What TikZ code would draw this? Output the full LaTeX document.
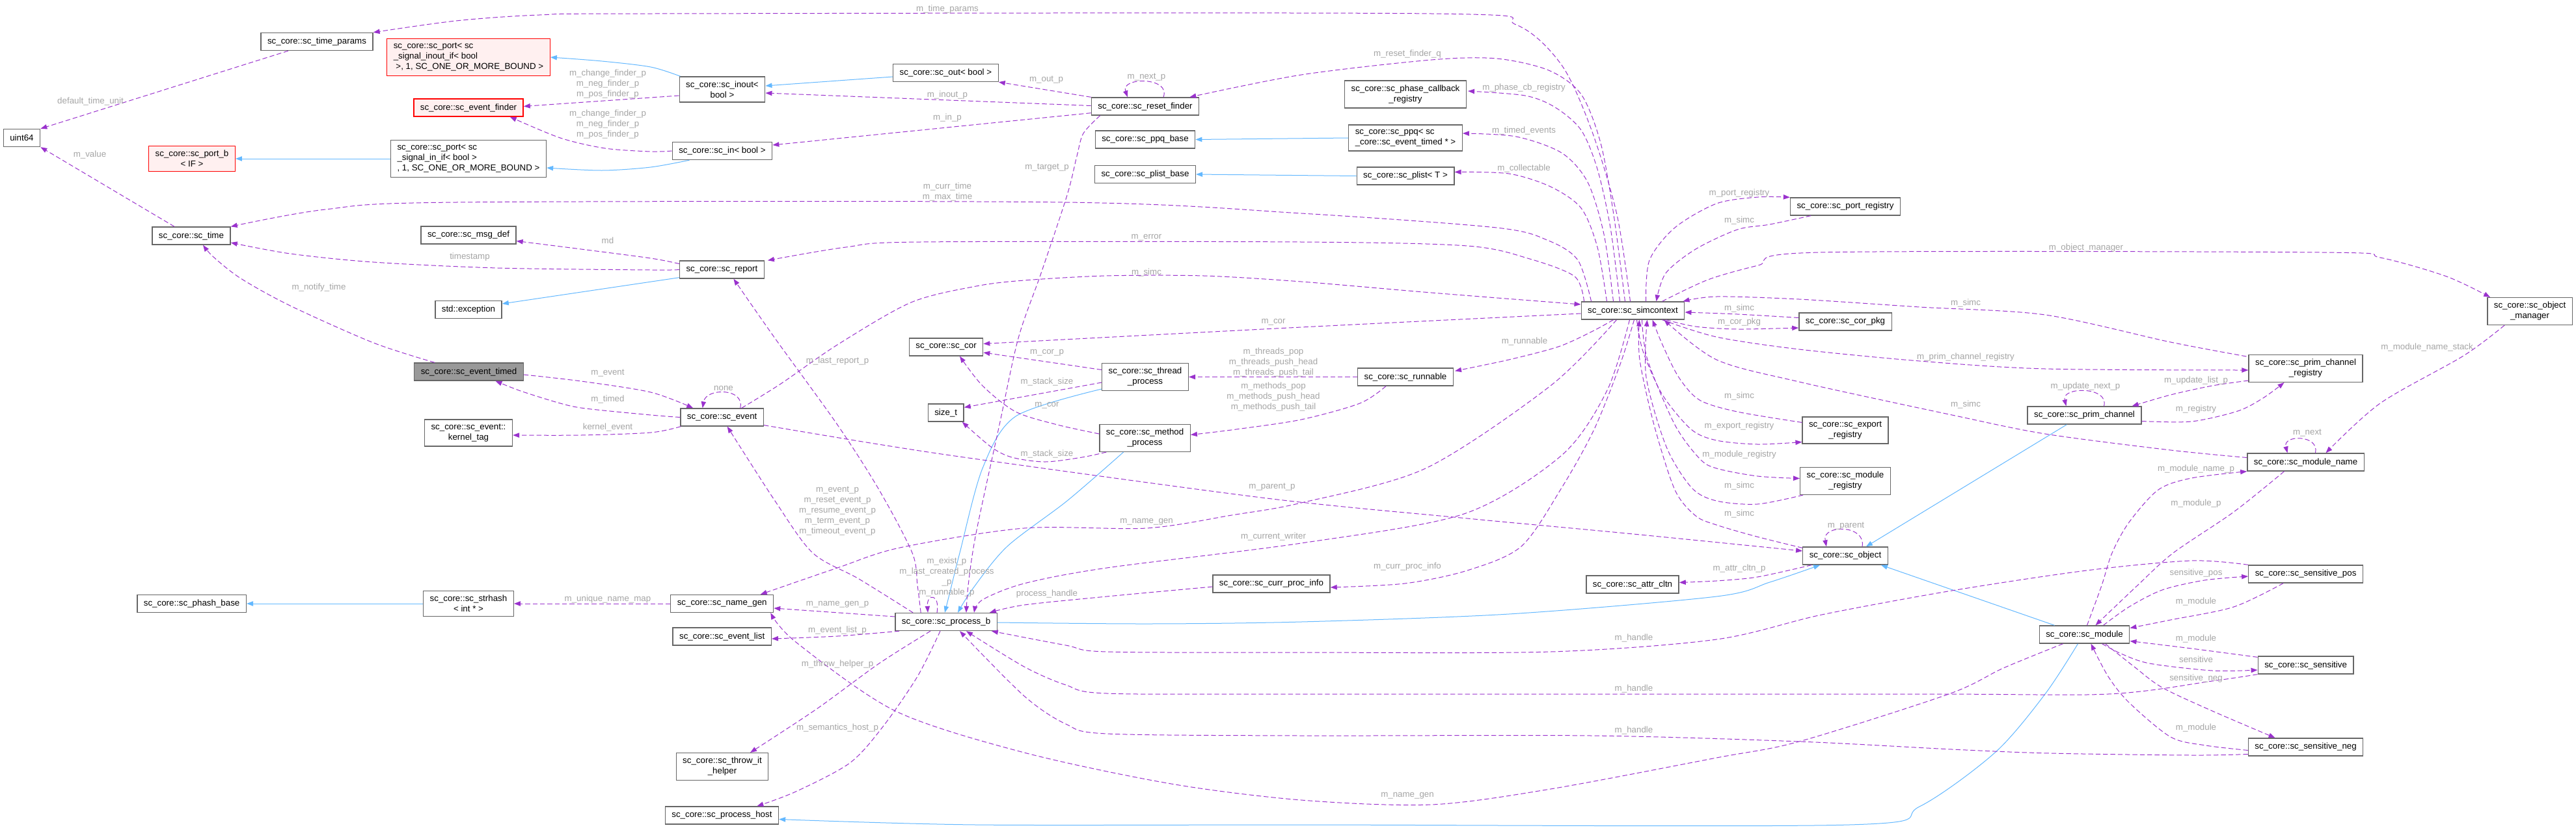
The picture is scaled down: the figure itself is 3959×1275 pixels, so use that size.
\documentclass[tikz,border=0pt]{standalone}
\usepackage{fontspec}
\setmainfont{Liberation Sans}
\usepackage{tikz}
\usetikzlibrary{arrows.meta}
\definecolor{memc}{RGB}{154,50,205}
\definecolor{inhc}{RGB}{99,184,255}
\definecolor{boxc}{RGB}{102,102,102}
\definecolor{redfill}{RGB}{255,240,240}
\definecolor{curfill}{RGB}{153,153,153}
\definecolor{lblc}{RGB}{165,165,165}

\begin{document}
\begin{tikzpicture}[x=0.75pt,y=-0.75pt,
  cls/.style={draw=boxc,fill=white,line width=1pt,font=\fontsize{10}{12}\selectfont,inner xsep=7.5pt,inner ysep=5pt,minimum height=20.25pt,align=center},
  tcls/.style={cls,align=left},
  redcls/.style={cls,draw=red,fill=redfill},
  cur/.style={cls,fill=curfill},
  lbl/.style={font=\fontsize{10}{12}\selectfont,text=lblc,align=center,inner sep=0pt},
  mem/.style={draw=memc,line width=0.75pt,dash pattern=on 5.5pt off 3pt,-{Triangle[length=7.5pt,width=5.5pt]}},
  inh/.style={draw=inhc,line width=0.75pt,-{Triangle[length=7.5pt,width=5.5pt]}}
]
\useasboundingbox (0,0) rectangle (3959,1275);
\fill[white] (0,0) rectangle (3959,1275);

% classes
\node[cls] (uint64) at (33.5,212) {uint64};
\node[cls] (timeparams) at (487,64) {sc\_core::sc\_time\_params};
\node[redcls,align=left] (portinout) at (720,88) {sc\_core::sc\_port< sc\\\_signal\_inout\_if< bool\\~>, 1, SC\_ONE\_OR\_MORE\_BOUND >};
\node[redcls] (evfinder) at (720,165.5) {sc\_core::sc\_event\_finder};
\node[redcls] (portb) at (295,244) {sc\_core::sc\_port\_b\\< IF >};
\node[tcls] (portin) at (720,244) {sc\_core::sc\_port< sc\\\_signal\_in\_if< bool >\\, 1, SC\_ONE\_OR\_MORE\_BOUND >};
\node[cls] (sctime) at (294,362.5) {sc\_core::sc\_time};
\node[cls] (msgdef) at (720,361.5) {sc\_core::sc\_msg\_def};
\node[cls] (exception) at (720,476) {std::exception};
\node[cur] (evtimed) at (720.5,571.5) {sc\_core::sc\_event\_timed};
\node[cls] (kerneltag) at (720,665.5) {sc\_core::sc\_event::\\kernel\_tag};
\node[cls] (phashbase) at (294.6,928) {sc\_core::sc\_phash\_base};
\node[cls] (strhash) at (720,928) {sc\_core::sc\_strhash\\< int * >};
\node[cls] (inout) at (1110,137.5) {sc\_core::sc\_inout<\\bool >};
\node[cls] (scin) at (1110,232) {sc\_core::sc\_in< bool >};
\node[cls] (report) at (1109.4,414.5) {sc\_core::sc\_report};
\node[cls] (event) at (1109.7,641.5) {sc\_core::sc\_event};
\node[cls] (namegen) at (1109.7,928) {sc\_core::sc\_name\_gen};
\node[cls] (eventlist) at (1109.7,978.5) {sc\_core::sc\_event\_list};
\node[cls] (throwhelper) at (1110,1178.5) {sc\_core::sc\_throw\_it\\\_helper};
\node[cls] (processhost) at (1109.4,1253.5) {sc\_core::sc\_process\_host};
\node[cls] (scout) at (1453.4,112) {sc\_core::sc\_out< bool >};
\node[cls] (cor) at (1454,533.5) {sc\_core::sc\_cor};
\node[cls] (sizet) at (1453.7,634.5) {size\_t};
\node[cls] (processb) at (1454,956) {sc\_core::sc\_process\_b};
\node[cls] (resetfinder) at (1760,163.5) {sc\_core::sc\_reset\_finder};
\node[cls] (ppqbase) at (1760,214.5) {sc\_core::sc\_ppq\_base};
\node[cls] (plistbase) at (1760,268) {sc\_core::sc\_plist\_base};
\node[cls] (thread) at (1760,579.5) {sc\_core::sc\_thread\\\_process};
\node[cls] (method) at (1759.6,673.5) {sc\_core::sc\_method\\\_process};
\node[cls] (currproc) at (1954,897.5) {sc\_core::sc\_curr\_proc\_info};
\node[cls] (phasecb) at (2160,145) {sc\_core::sc\_phase\_callback\\\_registry};
\node[tcls] (ppq) at (2160,212) {sc\_core::sc\_ppq< sc\\\_core::sc\_event\_timed * >};
\node[cls] (plist) at (2160,270.5) {sc\_core::sc\_plist< T >};
\node[cls] (runnable) at (2160,579.5) {sc\_core::sc\_runnable};
\node[cls] (simc) at (2509.5,477.5) {sc\_core::sc\_simcontext};
\node[cls] (attrcltn) at (2509,898.5) {sc\_core::sc\_attr\_cltn};
\node[cls] (portreg) at (2836,317.5) {sc\_core::sc\_port\_registry};
\node[cls] (corpkg) at (2836,494.5) {sc\_core::sc\_cor\_pkg};
\node[cls] (exportreg) at (2836,661.5) {sc\_core::sc\_export\\\_registry};
\node[cls] (modulereg) at (2836,739.5) {sc\_core::sc\_module\\\_registry};
\node[cls] (object) at (2836,854.5) {sc\_core::sc\_object};
\node[cls] (primchan) at (3203.5,638.5) {sc\_core::sc\_prim\_channel};
\node[cls] (module) at (3203.5,975.5) {sc\_core::sc\_module};
\node[cls] (primchanreg) at (3543.5,566.5) {sc\_core::sc\_prim\_channel\\\_registry};
\node[cls] (modulename) at (3543.5,710.5) {sc\_core::sc\_module\_name};
\node[cls] (senspos) at (3543.6,882.5) {sc\_core::sc\_sensitive\_pos};
\node[cls] (sensitive) at (3543.6,1022.5) {sc\_core::sc\_sensitive};
\node[cls] (sensneg) at (3543.6,1148.5) {sc\_core::sc\_sensitive\_neg};
\node[cls] (objmgr) at (3888,478.5) {sc\_core::sc\_object\\\_manager};

% inheritance
\draw[inh] plot[smooth,tension=.5] coordinates {([shift={(2,0)}]inout.north west) (1000,103) (925,94) (portinout.east)};
\draw[inh] (portin.west) -- (portb.east);
\draw[inh] plot[smooth,tension=.5] coordinates {([shift={(27,0)}]scin.south west) (1000,257) (925,262) ([shift={(0,14)}]portin.east)};
\draw[inh] ([shift={(0,6)}]scout.west) -- ([shift={(0,-5.5)}]inout.east);
\draw[inh] ([shift={(0,-2)}]report.south west) -- ([shift={(0,-9)}]exception.east);
\draw[inh] (ppq.west) -- (ppqbase.east);
\draw[inh] (plist.west) -- (plistbase.east);
\draw[inh] (strhash.west) -- (phashbase.east);
\draw[inh] plot[smooth,tension=.5] coordinates {([shift={(0,-3)}]thread.south west) (1561,640) (1510,720) (1475,850) (1460,910) ([shift={(-2,0)}]processb.north)};
\draw[inh] plot[smooth,tension=.5] coordinates {([shift={(-33,0)}]method.south) (1640,770) (1548,840) (1495,905) ([shift={(18,0)}]processb.north)};
\draw[inh] plot[smooth,tension=.5] coordinates {([shift={(0,1)}]processb.east) (1765,959) (2000,956) (2319,944) (2638,917) (2720,895) ([shift={(27,0)}]object.south west)};
\draw[inh] ([shift={(61,0)}]primchan.south west) -- ([shift={(-34,0)}]object.north east);
\draw[inh] ([shift={(24,0)}]module.north west) -- ([shift={(-11,0)}]object.south east);
\draw[inh] plot[smooth,tension=.5] coordinates {([shift={(-10,0)}]module.south) (3143,1067) (3066,1157) (2950,1240) (2842,1268) (2000,1268) (1500,1268) ([shift={(0,6)}]processhost.east)};

% members
\draw[mem] ([shift={(-44,0)}]timeparams.south) -- (uint64.north east);
\draw[mem] ([shift={(-26,0)}]sctime.north) -- (uint64.south east);
\draw[mem] plot[smooth,tension=.5] coordinates {([shift={(-4,0)}]simc.north) (2485,330) (2446,200) (2400,100) (2330,38) (2200,21) (1000,21) (829,23) (701,32) (timeparams.north east)};
\draw[mem] ([shift={(0,9.5)}]inout.west) -- ([shift={(0,-2)}]evfinder.east);
\draw[mem] plot[smooth,tension=.5] coordinates {(scin.west) (1000,233) (930,228) (861,212) ([shift={(-21,0)}]evfinder.south east)};
\draw[mem] plot[smooth,tension=.5] coordinates {([shift={(16,0)}]simc.north west) (2425,400) (2380,370) (2300,350) (2000,328) (1638,311) (701,311) (500,322) (sctime.north east)};
\draw[mem] plot[smooth,tension=.5] coordinates {(report.west) (1000,415) (765,412) (574,403) (446,390) ([shift={(0,10.5)}]sctime.east)};
\draw[mem] plot[smooth,tension=.5] coordinates {([shift={(0,-9)}]report.west) (1000,397) (893,383) ([shift={(0,9)}]msgdef.east)};
\draw[mem] plot[smooth,tension=.5] coordinates {([shift={(32,0)}]evtimed.north west) (574,527) (446,470) (370,428) (328,395) ([shift={(18,0)}]sctime.south)};
\draw[mem] ([shift={(0,-1)}]resetfinder.west) -- ([shift={(0,5.5)}]inout.east);
\draw[mem] (resetfinder.north west) -- (scout.south east);
\draw[mem] ([shift={(28,0)}]resetfinder.north) .. controls (1800,118) and (1722,118) .. ([shift={(-27,0)}]resetfinder.north);
\draw[mem] plot[smooth,tension=.5] coordinates {([shift={(-12,0)}]simc.north) (2480,330) (2460,220) (2430,145) (2380,108) (2300,90) (2200,92) (2000,115) ([shift={(-15,0)}]resetfinder.north east)};
\draw[mem] ([shift={(0,-4)}]resetfinder.south west) -- ([shift={(0,-9)}]scin.east);
\draw[mem] plot[smooth,tension=.5] coordinates {([shift={(14,0)}]resetfinder.south west) (1665,205) (1655,240) (1640,300) (1600,420) (1565,520) (1536,653) (1500,820) (1488,900) ([shift={(31,0)}]processb.north)};
\draw[mem] (runnable.west) -- (thread.east);
\draw[mem] plot[smooth,tension=.5] coordinates {([shift={(44,0)}]runnable.south west) (2090,620) (2000,645) (1900,660) ([shift={(0,-5)}]method.east)};
\draw[mem] ([shift={(0,-11)}]thread.west) -- ([shift={(0,8.5)}]cor.east);
\draw[mem] ([shift={(0,8.5)}]thread.west) -- ([shift={(0,6)}]sizet.north east);
\draw[mem] plot[smooth,tension=.5] coordinates {([shift={(0,-6.5)}]method.west) (1625,653) (1561,633) (1510,593) ([shift={(21,0)}]cor.south)};
\draw[mem] plot[smooth,tension=.5] coordinates {([shift={(11,0)}]method.south west) (1663,703) (1606,710) (1555,703) (1523,687) ([shift={(-3,0)}]sizet.south east)};
\draw[mem] plot[smooth,tension=.5] coordinates {([shift={(0,4.5)}]simc.west) (2000,503) ([shift={(0,-5)}]cor.east)};
\draw[mem] plot[smooth,tension=.5] coordinates {([shift={(30,0)}]event.north) (1200,590) (1287,530) (1400,465) (1500,440) (1574,431) (1700,424) (1850,424) (2000,433) (2200,450) ([shift={(0,-9.5)}]simc.west)};
\draw[mem] ([shift={(28,0)}]event.north) .. controls (1145,596) and (1085,596) .. ([shift={(-30,0)}]event.north);
\draw[mem] plot[smooth,tension=.5] coordinates {([shift={(0,4.5)}]evtimed.east) (893,586) (1000,603) ([shift={(20,0)}]event.north west)};
\draw[mem] plot[smooth,tension=.5] coordinates {(event.west) (1000,638) (900,628) (861,620) (800,601) ([shift={(41,0)}]evtimed.south)};
\draw[mem] plot[smooth,tension=.5] coordinates {([shift={(1,0)}]event.south west) (1000,665) (893,669) ([shift={(0,3.5)}]kerneltag.east)};
\draw[mem] plot[smooth,tension=.5] coordinates {([shift={(0,-2)}]event.south east) (1350,683) (1510,707) (1955,767) (2255,797) (2500,820) ([shift={(0,-7.5)}]object.west)};
\draw[mem] plot[smooth,tension=.5] coordinates {([shift={(28,0)}]processb.north west) (1320,890) (1249,850) (1191,770) ([shift={(8,0)}]event.south)};
\draw[mem] plot[smooth,tension=.5] coordinates {([shift={(40,0)}]processb.north west) (1410,900) (1402,850) (1351,753) (1287,653) (1191,520) ([shift={(18,0)}]report.south)};
\draw[mem] ([shift={(-14,0)}]processb.north) .. controls (1445,912) and (1424,912) .. ([shift={(-28,0)}]processb.north);
\draw[mem] ([shift={(0,-8)}]processb.west) -- ([shift={(0,7)}]namegen.east);
\draw[mem] plot[smooth,tension=.5] coordinates {([shift={(7,0)}]processb.south west) (1287,978) ([shift={(0,3.5)}]eventlist.east)};
\draw[mem] plot[smooth,tension=.5] coordinates {([shift={(-24,0)}]processb.south) (1351,1020) (1255,1090) ([shift={(43,0)}]throwhelper.north)};
\draw[mem] plot[smooth,tension=.5] coordinates {([shift={(-9,0)}]processb.south) (1410,1040) (1357,1117) (1306,1173) (1223,1217) ([shift={(54,0)}]processhost.north)};
\draw[mem] plot[smooth,tension=.5] coordinates {([shift={(37,0)}]module.south west) (3079,1027) (2995,1067) (2765,1140) (2638,1165) (2383,1213) (2200,1237) (2000,1230) (1800,1205) (1574,1157) (1376,1093) (1223,987) ([shift={(-5,0)}]namegen.south east)};
\draw[mem] plot[smooth,tension=.5] coordinates {([shift={(-25,0)}]simc.south) (2383,593) (2191,720) (2000,773) (1893,792) (1762,812) (1574,812) (1383,842) (1287,873) ([shift={(59,0)}]namegen.north)};
\draw[mem] (namegen.west) -- (strhash.east);
\draw[mem] plot[smooth,tension=.5] coordinates {([shift={(0,4.5)}]currproc.west) (1701,917) (1574,930) ([shift={(-12,0)}]processb.north east)};
\draw[mem] plot[smooth,tension=.5] coordinates {([shift={(2,0)}]simc.south) (2490,560) (2450,660) (2400,750) (2338,840) (2255,877) (2159,897) ([shift={(0,5.5)}]currproc.east)};
\draw[mem] plot[smooth,tension=.5] coordinates {([shift={(-5,0)}]simc.south) (2470,600) (2400,700) (2250,790) (2000,835) (1701,873) (1574,897) (1510,922) ([shift={(43,0)}]processb.north)};
\draw[mem] plot[smooth,tension=.5] coordinates {([shift={(5,0)}]simc.north west) (2420,425) (2351,398) (2255,378) (2000,372) (1414,372) (1300,380) ([shift={(5,0)}]report.north east)};
\draw[mem] plot[smooth,tension=.5] coordinates {([shift={(-20,0)}]simc.north) (2475,350) (2455,260) (2430,200) (2390,165) (2344,147) ([shift={(2,-5)}]phasecb.east)};
\draw[mem] plot[smooth,tension=.5] coordinates {([shift={(-30,0)}]simc.north) (2465,360) (2440,280) (2400,235) (2330,210) ([shift={(0,-7)}]ppq.east)};
\draw[mem] plot[smooth,tension=.5] coordinates {([shift={(-40,0)}]simc.north) (2455,380) (2430,320) (2383,287) (2319,267) ([shift={(0,-6)}]plist.east)};
\draw[mem] plot[smooth,tension=.5] coordinates {([shift={(20,0)}]simc.north) (2535,400) (2574,350) (2638,313) (2702,303) (portreg.north west)};
\draw[mem] plot[smooth,tension=.5] coordinates {([shift={(32,0)}]portreg.south west) (2720,345) (2670,353) (2606,383) (2560,420) ([shift={(36,0)}]simc.north)};
\draw[mem] plot[smooth,tension=.5] coordinates {([shift={(-35,0)}]simc.north east) (2625,430) (2702,408) (2797,388) (3568,388) (3658,396) (3760,425) ([shift={(5,0)}]objmgr.north west)};
\draw[mem] plot[smooth,tension=.5] coordinates {([shift={(27,0)}]objmgr.south west) (3786,547) (3658,620) ([shift={(31,0)}]modulename.north)};
\draw[mem] plot[smooth,tension=.5] coordinates {([shift={(-29,0)}]simc.south east) (2606,502) (2670,506) ([shift={(0,9.5)}]corpkg.west)};
\draw[mem] plot[smooth,tension=.5] coordinates {([shift={(0,-6)}]corpkg.west) (2670,483) ([shift={(0,2.5)}]simc.east)};
\draw[mem] plot[smooth,tension=.5] coordinates {([shift={(-30,0)}]simc.south) (2446,510) (2395,533) (2319,553) ([shift={(2,5)}]runnable.north east)};
\draw[mem] plot[smooth,tension=.5] coordinates {([shift={(6,0)}]simc.south) (2525,540) (2555,607) (2599,660) (2638,677) (2701,683) ([shift={(0,-3)}]exportreg.south west)};
\draw[mem] plot[smooth,tension=.5] coordinates {([shift={(0,9)}]exportreg.north west) (2670,633) (2612,615) (2580,580) (2555,530) ([shift={(30,0)}]simc.south)};
\draw[mem] plot[smooth,tension=.5] coordinates {([shift={(14,0)}]simc.south) (2532,553) (2574,653) (2612,705) (2638,720) (2701,732) ([shift={(0,-4)}]modulereg.west)};
\draw[mem] plot[smooth,tension=.5] coordinates {([shift={(5,0)}]modulereg.south west) (2701,775) (2638,770) (2600,750) (2561,687) (2530,580) ([shift={(22,0)}]simc.south)};
\draw[mem] plot[smooth,tension=.5] coordinates {([shift={(0,2)}]object.north west) (2700,825) (2638,807) (2606,793) (2574,753) (2542,653) (2520,553) ([shift={(10,0)}]simc.south)};
\draw[mem] ([shift={(26,0)}]object.north) .. controls (2868,806) and (2800,806) .. ([shift={(-29,0)}]object.north);
\draw[mem] plot[smooth,tension=.5] coordinates {([shift={(-35,0)}]simc.south east) (2638,518) (2765,537) (2950,555) (3143,567) ([shift={(0,2.5)}]primchanreg.west)};
\draw[mem] plot[smooth,tension=.5] coordinates {([shift={(-3,3)}]primchanreg.north west) (3336,526) (3143,484) (2950,472) (2765,460) (2638,456) ([shift={(-3,0)}]simc.north east)};
\draw[mem] plot[smooth,tension=.5] coordinates {([shift={(0,-3)}]primchanreg.south west) (3400,593) (3336,607) ([shift={(-15,0)}]primchan.north east)};
\draw[mem] plot[smooth,tension=.5] coordinates {([shift={(0,9)}]primchan.east) (3368,648) (3439,632) (3478,612) ([shift={(-33,0)}]primchanreg.south)};
\draw[mem] ([shift={(30,0)}]primchan.north) .. controls (3242,594) and (3168,594) .. ([shift={(-28,0)}]primchan.north);
\draw[mem] plot[smooth,tension=.5] coordinates {([shift={(0,-7)}]modulename.west) (3336,692) (3143,667) (3000,638) (2765,587) (2638,553) ([shift={(-32,0)}]simc.south east)};
\draw[mem] ([shift={(15,0)}]modulename.north) .. controls (3565,668) and (3508,668) .. ([shift={(-28,0)}]modulename.north);
\draw[mem] plot[smooth,tension=.5] coordinates {([shift={(4,0)}]module.north) (3230,900) (3246,850) (3272,803) (3317,753) (3368,735) (modulename.south west)};
\draw[mem] plot[smooth,tension=.5] coordinates {([shift={(-33,0)}]modulename.south) (3433,787) (3340,850) (3285,900) ([shift={(17,0)}]module.north)};
\draw[mem] plot[smooth,tension=.5] coordinates {([shift={(29,0)}]module.north) (3272,933) (3323,907) (3388,892) ([shift={(0,3.5)}]senspos.west)};
\draw[mem] plot[smooth,tension=.5] coordinates {([shift={(54,0)}]senspos.south west) (3433,933) (3336,953) ([shift={(0,-10)}]module.east)};
\draw[mem] plot[smooth,tension=.5] coordinates {([shift={(0,2)}]sensitive.north west) (3368,997) ([shift={(0,10)}]module.east)};
\draw[mem] plot[smooth,tension=.5] coordinates {([shift={(27,0)}]module.south) (3260,1005) (3304,1020) (3400,1031) ([shift={(0,7.5)}]sensitive.west)};
\draw[mem] plot[smooth,tension=.5] coordinates {([shift={(32,0)}]module.south) (3280,1025) (3323,1057) (3400,1093) ([shift={(-47,0)}]sensneg.north)};
\draw[mem] plot[smooth,tension=.5] coordinates {([shift={(0,5)}]sensneg.west) (3390,1146) (3336,1133) (3272,1080) (3240,1040) ([shift={(10,0)}]module.south)};
\draw[mem] plot[smooth,tension=.5] coordinates {(senspos.north west) (3368,862) (3207,877) (3000,908) (2800,945) (2638,983) (2383,1002) (2000,1003) (1701,1002) (1638,992) ([shift={(-9,0)}]processb.south east)};
\draw[mem] plot[smooth,tension=.5] coordinates {(sensitive.south west) (3400,1047) (3240,1067) (2950,1067) (2000,1067) (1701,1066) (1638,1053) (1574,1025) ([shift={(31,0)}]processb.south)};
\draw[mem] plot[smooth,tension=.5] coordinates {([shift={(0,11)}]sensneg.west) (3368,1161) (3150,1158) (3000,1152) (2765,1140) (2446,1131) (2000,1131) (1701,1128) (1638,1113) (1574,1070) ([shift={(21,0)}]processb.south)};
\draw[mem] plot[smooth,tension=.5] coordinates {([shift={(14,0)}]object.south west) (2701,887) (2638,893) ([shift={(0,-3)}]attrcltn.east)};

% edge labels
\node[lbl] (lDefUnit) at (139,156) {default\_time\_unit};
\node[lbl] (lValue) at (138,238) {m\_value};
\node[lbl] (lTimeParams) at (1456,14) {m\_time\_params};
\node[lbl] (lFinderA) at (934,129) {m\_change\_finder\_p\\m\_neg\_finder\_p\\m\_pos\_finder\_p};
\node[lbl] (lFinderB) at (934,191) {m\_change\_finder\_p\\m\_neg\_finder\_p\\m\_pos\_finder\_p};
\node[lbl] (lMd) at (934,370) {md};
\node[lbl] (lStamp) at (722,395) {timestamp};
\node[lbl] (lCurrTime) at (1456,295) {m\_curr\_time\\m\_max\_time};
\node[lbl] (lNotify) at (490,442) {m\_notify\_time};
\node[lbl] (lOut) at (1608,123) {m\_out\_p};
\node[lbl] (lNext) at (1762,119) {m\_next\_p};
\node[lbl] (lInout) at (1456,146) {m\_inout\_p};
\node[lbl] (lIn) at (1456,181) {m\_in\_p};
\node[lbl] (lTarget) at (1609,258) {m\_target\_p};
\node[lbl] (lError) at (1762,365) {m\_error};
\node[lbl] (lSimcEv) at (1762,419) {m\_simc};
\node[lbl] (lResetQ) at (2163,83) {m\_reset\_finder\_q};
\node[lbl] (lPhase) at (2342,135) {m\_phase\_cb\_registry};
\node[lbl] (lTimed) at (2342,201) {m\_timed\_events};
\node[lbl] (lCollect) at (2342,259) {m\_collectable};
\node[lbl] (lPortReg) at (2673,297) {m\_port\_registry};
\node[lbl] (lSimcPort) at (2673,339) {m\_simc};
\node[lbl] (lObjMgr) at (3206,381) {m\_object\_manager};
\node[lbl] (lEvent) at (934,574) {m\_event};
\node[lbl] (lTimedE) at (934,614) {m\_timed};
\node[lbl] (lKernel) at (934,657) {kernel\_event};
\node[lbl] (lNone) at (1112,597) {none};
\node[lbl] (lLastRep) at (1287,555) {m\_last\_report\_p};
\node[lbl] (lCorP) at (1609,542) {m\_cor\_p};
\node[lbl] (lStackA) at (1609,587) {m\_stack\_size};
\node[lbl] (lCorM) at (1609,623) {m\_cor};
\node[lbl] (lStackB) at (1609,698) {m\_stack\_size};
\node[lbl] (lCorS) at (1957,495) {m\_cor};
\node[lbl] (lThreads) at (1957,557) {m\_threads\_pop\\m\_threads\_push\_head\\m\_threads\_push\_tail};
\node[lbl] (lMethods) at (1957,610) {m\_methods\_pop\\m\_methods\_push\_head\\m\_methods\_push\_tail};
\node[lbl] (lEvents) at (1287,786) {m\_event\_p\\m\_reset\_event\_p\\m\_resume\_event\_p\\m\_term\_event\_p\\m\_timeout\_event\_p};
\node[lbl] (lParentP) at (1955,749) {m\_parent\_p};
\node[lbl] (lNameGenS) at (1762,802) {m\_name\_gen};
\node[lbl] (lWriter) at (1957,825) {m\_current\_writer};
\node[lbl] (lSimcCor) at (2673,474) {m\_simc};
\node[lbl] (lCorPkg) at (2673,495) {m\_cor\_pkg};
\node[lbl] (lRunnable) at (2343,525) {m\_runnable};
\node[lbl] (lSimcExp) at (2673,609) {m\_simc};
\node[lbl] (lExpReg) at (2673,655) {m\_export\_registry};
\node[lbl] (lModReg) at (2673,699) {m\_module\_registry};
\node[lbl] (lSimcMod) at (2673,747) {m\_simc};
\node[lbl] (lSimcObj) at (2673,790) {m\_simc};
\node[lbl] (lParent) at (2837,809) {m\_parent};
\node[lbl] (lSimcPcr) at (3021,466) {m\_simc};
\node[lbl] (lPcReg) at (3021,549) {m\_prim\_channel\_registry};
\node[lbl] (lUpdList) at (3375,585) {m\_update\_list\_p};
\node[lbl] (lUpdNext) at (3205,594) {m\_update\_next\_p};
\node[lbl] (lRegistry) at (3375,629) {m\_registry};
\node[lbl] (lSimcMn) at (3021,622) {m\_simc};
\node[lbl] (lMnNext) at (3546,666) {m\_next};
\node[lbl] (lMnP) at (3375,721) {m\_module\_name\_p};
\node[lbl] (lModP) at (3375,774) {m\_module\_p};
\node[lbl] (lMnStack) at (3730,534) {m\_module\_name\_stack};
\node[lbl] (lUnique) at (934,921) {m\_unique\_name\_map};
\node[lbl] (lExist) at (1455,887) {m\_exist\_p\\m\_last\_created\_process\\\_p\\m\_runnable\_p};
\node[lbl] (lNameGenP) at (1287,929) {m\_name\_gen\_p};
\node[lbl] (lHandle) at (1609,913) {process\_handle};
\node[lbl] (lEvList) at (1287,969) {m\_event\_list\_p};
\node[lbl] (lThrow) at (1287,1021) {m\_throw\_helper\_p};
\node[lbl] (lSemHost) at (1287,1119) {m\_semantics\_host\_p};
\node[lbl] (lCurrProc) at (2163,871) {m\_curr\_proc\_info};
\node[lbl] (lAttr) at (2673,874) {m\_attr\_cltn\_p};
\node[lbl] (lHandleA) at (2511,981) {m\_handle};
\node[lbl] (lHandleB) at (2511,1059) {m\_handle};
\node[lbl] (lHandleC) at (2511,1123) {m\_handle};
\node[lbl] (lNameGenM) at (2163,1223) {m\_name\_gen};
\node[lbl] (lSensPos) at (3375,881) {sensitive\_pos};
\node[lbl] (lModA) at (3375,925) {m\_module};
\node[lbl] (lModB) at (3375,982) {m\_module};
\node[lbl] (lSens) at (3375,1014) {sensitive};
\node[lbl] (lSensNeg) at (3375,1043) {sensitive\_neg};
\node[lbl] (lModC) at (3375,1119) {m\_module};
\end{tikzpicture}
\end{document}
